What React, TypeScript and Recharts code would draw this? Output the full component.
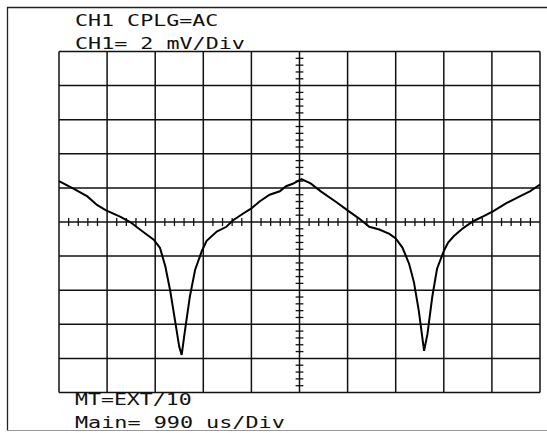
import { LineChart, Line, XAxis, YAxis, ReferenceLine } from 'recharts'

// scope settings
const US_PER_DIV = 990
const MV_PER_DIV = 2
const H_DIVS = 10
const V_DIVS = 10

// CH1 trace, time in µs, voltage in mV
const timeUs = [
  0, 307, 584, 782, 960, 1267, 1465, 1742, 1950, 2079, 2188, 2287, 2386, 2475, 2525,
  2594, 2693, 2802, 2940, 3039, 3247, 3445, 3584, 3792, 3960, 4128, 4336, 4544, 4673,
  4811, 4990, 5178, 5396, 5712, 5940, 6178, 6386, 6593, 6801, 6930, 7069, 7207, 7306,
  7405, 7514, 7583, 7682, 7781, 7920, 8009, 8128, 8326, 8534, 8742, 8940, 9217, 9494,
  9692, 9900,
]
const voltMv = [
  2.4, 1.94, 1.5, 1.0, 0.7, 0.3, 0.0, -0.6, -1.04, -1.52, -2.6, -4.0, -5.74, -7.32, -7.8,
  -6.34, -4.38, -2.8, -1.7, -1.1, -0.56, -0.28, 0.1, 0.5, 0.8, 1.2, 1.6, 1.8, 2.1,
  2.24, 2.52, 2.26, 1.78, 1.16, 0.68, 0.2, -0.28, -0.44, -0.7, -0.96, -1.5, -2.46, -3.54,
  -5.2, -7.56, -6.58, -4.4, -2.74, -1.7, -1.2, -0.82, -0.34, 0.06, 0.34, 0.64, 1.12, 1.52,
  1.8, 2.2,
]

const topLabels = ['CH1 CPLG=AC', 'CH1= 2 mV/Div']
const bottomLabels = ['MT=EXT/10', 'Main= 990 us/Div']

const data = timeUs.map((t, i) => ({ t, v: voltMv[i] }))

const tMax = US_PER_DIV * H_DIVS
const vMax = (MV_PER_DIV * V_DIVS) / 2
const tMid = tMax / 2

const vGrid = Array.from({ length: H_DIVS + 1 }, (_, i) => i * US_PER_DIV)
const hGrid = Array.from({ length: V_DIVS + 1 }, (_, i) => -vMax + i * MV_PER_DIV)
const tMinor = Array.from({ length: H_DIVS * 5 + 1 }, (_, i) => (i * US_PER_DIV) / 5).filter((_, i) => i % 5 !== 0)
const vMinor = Array.from({ length: V_DIVS * 5 + 1 }, (_, i) => -vMax + (i * MV_PER_DIV) / 5).filter((_, i) => i % 5 !== 0)

const PITCH = 13.3 // plotter font character pitch

const textStyle = {
  fontFamily: '"DejaVu Sans Mono", monospace',
  fontSize: 15,
  fill: '#111',
}

function Label({ s, y }: { s: string; y: number }) {
  return (
    <text x={75} y={y} style={textStyle} textLength={s.length * PITCH - 3} lengthAdjust="spacingAndGlyphs">
      {s}
    </text>
  )
}

export default function App() {
  return (
    <div style={{ position: 'fixed', left: 0, top: 0, width: 547, height: 433, background: '#fff' }}>
      <div style={{ position: 'absolute', left: 0, top: 0 }}>
        <LineChart width={547} height={433} data={data} margin={{ top: 51.5, right: 7, bottom: 40.5, left: 59 }}>
          <XAxis dataKey="t" type="number" domain={[0, tMax]} hide />
          <YAxis type="number" domain={[-vMax, vMax]} hide />
          {vGrid.map(x => (
            <ReferenceLine key={'vx' + x} x={x} stroke="#111" strokeWidth={1.5} />
          ))}
          {hGrid.map(y => (
            <ReferenceLine key={'hy' + y} y={y} stroke="#111" strokeWidth={1.5} />
          ))}
          {tMinor.map(x => (
            <ReferenceLine key={'tm' + x} segment={[{ x, y: -0.24 }, { x, y: 0.24 }]} stroke="#111" strokeWidth={1.3} />
          ))}
          {vMinor.map(y => (
            <ReferenceLine key={'vm' + y} segment={[{ x: tMid - 80, y }, { x: tMid + 80, y }]} stroke="#111" strokeWidth={1.3} />
          ))}
          <Line type="linear" dataKey="v" stroke="#000" strokeWidth={2} dot={false} isAnimationActive={false} />
        </LineChart>
      </div>
      <svg width={547} height={433} style={{ position: 'absolute', left: 0, top: 0, pointerEvents: 'none' }}>
        <path d="M547 7.5 H7.5 V430.5" fill="none" stroke="#222" strokeWidth={1.3} />
        <path d="M7.5 430.5 H547" fill="none" stroke="#999" strokeWidth={1} />
        {topLabels.map((s, i) => (
          <Label key={s} s={s} y={26 + i * 23} />
        ))}
        {bottomLabels.map((s, i) => (
          <Label key={s} s={s} y={405 + i * 23} />
        ))}
      </svg>
    </div>
  )
}
